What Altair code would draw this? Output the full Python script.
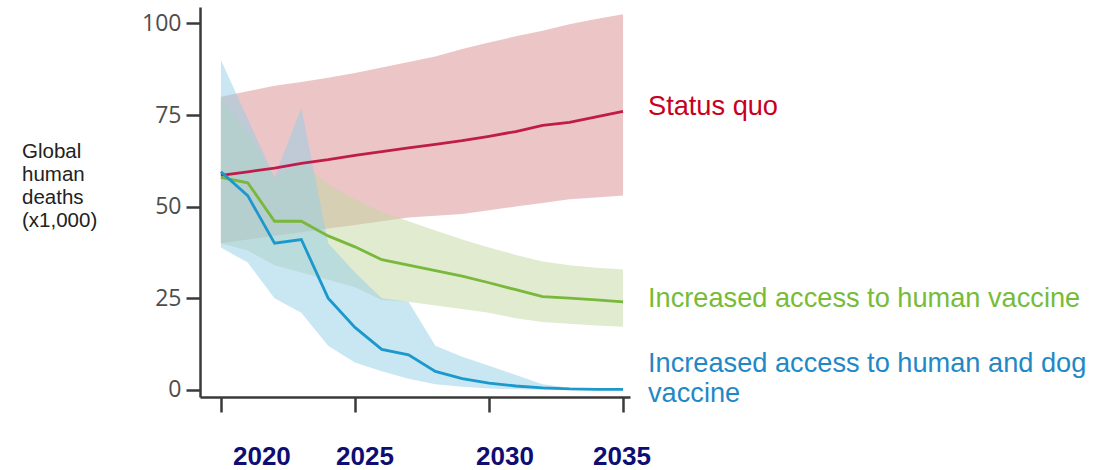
import altair as alt
import pandas as pd

years = list(range(2020, 2036))

status_mid = [58.5, 59.5, 60.5, 61.8, 62.8, 64.0, 65.0, 66.0, 67.0, 68.0, 69.2, 70.5, 72.2, 73.0, 74.5, 76.0]
status_lo = [40, 41, 42, 43, 44, 45, 46, 47, 47.5, 48, 49, 50, 51, 52, 52.5, 53]
status_hi = [80, 81.5, 83, 84, 85.2, 86.5, 88, 89.5, 91, 93, 94.8, 96.5, 98, 99.8, 101.2, 102.5]

human_mid = [58, 56.5, 46, 46, 42, 39, 35.5, 34, 32.5, 31, 29.2, 27.3, 25.4, 25, 24.5, 24]
human_lo = [40, 38, 34, 32, 30, 28, 24.5, 24, 23, 22, 21, 19.5, 18.5, 18, 17.5, 17.2]
human_hi = [80, 70, 58, 62, 56, 52, 48.5, 46, 43.5, 41, 38.8, 36.8, 35, 34, 33.3, 32.8]

dog_mid = [59.5, 53, 40, 41, 25, 17, 11, 9.5, 5, 3, 1.8, 1, 0.5, 0.2, 0.1, 0.1]
dog_lo = [38.8, 34.7, 25, 21, 12, 7.4, 5, 3, 1.5, 0.8, 0.3, 0.1, 0, 0, 0, 0]
dog_hi = [90, 74, 58, 77, 40, 32, 25, 24, 12, 9, 6.5, 4, 1.5, 0.5, 0.3, 0.3]

y_ticks = [0, 25, 50, 75, 100]
x_ticks = [2020, 2025, 2030, 2035]
x_label_dx = [41, 10, 16, -1]

series_names = ["Status quo", "Increased access to human vaccine",
                "Increased access to human and dog\nvaccine"]
line_colors = ["#c01c4a", "#78b83a", "#1b98cc"]
band_colors = ["#d98d8d", "#c1d7a1", "#94cee7"]
text_colors = ["#c8001e", "#77bc37", "#1f88c6"]

W, H = 430, 390
x_scale = alt.Scale(domain=[2019.22, 2035.26], nice=False, zero=False)
y_scale = alt.Scale(domain=[-2, 104.5], nice=False, zero=False)

x_axis = alt.Axis(values=x_ticks, labels=False, title=None, grid=False, tickSize=15,
                  tickWidth=2.5, domainWidth=2.5, domainColor="#3a3a3a", tickColor="#3a3a3a")
y_axis = alt.Axis(values=y_ticks, title=None, grid=False, tickSize=14, tickWidth=2.5,
                  domainWidth=2.5, domainColor="#3a3a3a", tickColor="#3a3a3a",
                  labelFont="Open Sans", labelFontSize=23, labelColor="#4d4d4d", labelPadding=5)

series = [(status_mid, status_lo, status_hi), (human_mid, human_lo, human_hi), (dog_mid, dog_lo, dog_hi)]

layers = []
# bands
for i, (mid, lo, hi) in enumerate(series):
    df = pd.DataFrame({"year": years, "mid": mid, "lo": lo, "hi": hi})
    band = alt.Chart(df).mark_area(color=band_colors[i], opacity=0.5).encode(
        x=alt.X("year:Q", scale=x_scale, axis=x_axis),
        y=alt.Y("lo:Q", scale=y_scale, axis=y_axis),
        y2="hi:Q",
    )
    layers.append(band)
# lines
for i, (mid, lo, hi) in enumerate(series):
    df = pd.DataFrame({"year": years, "mid": mid})
    line = alt.Chart(df).mark_line(color=line_colors[i], strokeWidth=2.8).encode(
        x=alt.X("year:Q", scale=x_scale, axis=x_axis),
        y=alt.Y("mid:Q", scale=y_scale, axis=y_axis),
    )
    layers.append(line)

# x tick labels
for yr, dx in zip(x_ticks, x_label_dx):
    t = alt.Chart(pd.DataFrame({"year": [yr], "label": [str(yr)]})).mark_text(
        font="Liberation Sans", fontSize=26, fontWeight="bold", color="#0d0d73",
        baseline="middle", align="center", dx=dx,
    ).encode(
        x=alt.X("year:Q", scale=x_scale, axis=x_axis),
        y=alt.value(450),
        text="label:N",
    )
    layers.append(t)

# series labels on the right
label_y = [108, 300, 365]
for i, name in enumerate(series_names):
    t = alt.Chart(pd.DataFrame({"label": [name]})).mark_text(
        font="Liberation Sans", fontSize=27.2, color=text_colors[i], align="left",
        baseline="alphabetic", lineBreak="\n", lineHeight=30,
    ).encode(x=alt.value(448), y=alt.value(label_y[i]), text="label:N")
    layers.append(t)

# y axis title
ytitle = alt.Chart(pd.DataFrame({"label": ["Global\nhuman\ndeaths\n(x1,000)"]})).mark_text(
    font="Liberation Sans", fontSize=20.5, color="#222222", align="left",
    baseline="alphabetic", lineBreak="\n", lineHeight=23,
).encode(x=alt.value(-178), y=alt.value(151), text="label:N")
layers.append(ytitle)

chart = alt.layer(*layers).properties(
    width=W, height=H,
    autosize=alt.AutoSizeParams(type="none"),
    padding={"left": 200, "top": 7, "right": 478, "bottom": 73},
    background="white",
).configure_view(stroke=None)

chart.save("out.html", embed_options={"renderer": "svg", "actions": False})
